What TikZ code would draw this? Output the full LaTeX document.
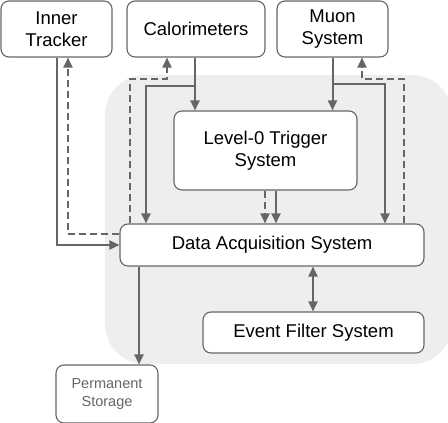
\documentclass[tikz,border=0pt]{standalone}
\usepackage{fontspec}
\setmainfont{Liberation Sans}
\usetikzlibrary{arrows.meta}
\definecolor{ln}{HTML}{666666}
\definecolor{bg}{HTML}{EEEEEE}
\begin{document}
\begin{tikzpicture}[x=1pt,y=-1pt,
  box/.style={draw=ln, line width=1.1pt, rounded corners=8pt, fill=white, align=center,
    inner sep=0pt, font=\fontsize{18.5}{21.7}\selectfont},
  smallbox/.style={box, font=\fontsize{14.5}{18}\selectfont, text=ln},
  conn/.style={draw=ln, line width=2pt, -{Triangle[width=9pt,length=10pt]}},
  dconn/.style={conn, dash pattern=on 7pt off 4pt},
  bconn/.style={draw=ln, line width=2pt, {Triangle[width=9pt,length=10pt]}-{Triangle[width=9pt,length=10pt]}}
]
\useasboundingbox (0,0) rectangle (448,423);
\begin{scope}
\clip (0,0) rectangle (448,423);
\fill[bg, rounded corners=40pt] (105,75) rectangle (452,364);
\end{scope}

\node[box, minimum width=111pt, minimum height=56pt] (it) at (56.5,29) {Inner\\Tracker};
\node[box, minimum width=138pt, minimum height=56pt] (cal) at (196,29) {Calorimeters};
\node[box, minimum width=111pt, minimum height=56pt] (mu) at (332.5,29) {Muon\\System};
\node[box, minimum width=183pt, minimum height=79pt] (l0) at (265.5,150.5) {Level-0 Trigger\\System};
\node[box, minimum width=304pt, minimum height=42pt] (daq) at (272,245) {Data Acquisition System};
\node[box, minimum width=221pt, minimum height=41pt] (ef) at (313.5,332.5) {Event Filter System};
\node[smallbox, minimum width=102pt, minimum height=58pt] (ps) at (107,394) {Permanent\\Storage};

% Inner tracker
\draw[conn] (it.south) |- (daq.west);
\draw[dconn] (daq.west |- 0,234) -| (it.south -| 68,0);
% Calorimeters
\draw[conn] (cal.south -| 195,0) -- (l0.north -| 195,0);
\draw[conn] (195,86) -| (daq.north -| 146,0);
\draw[dconn] (daq.north -| 130,0) |- (167,79) -- (cal.south -| 167,0);
% Muon
\draw[conn] (mu.south) -- (mu.south |- l0.north);
\draw[conn] (mu.south |- 0,84) -| (daq.north -| 385,0);
\draw[dconn] (daq.north -| 404,0) |- (362,79) -- (mu.south -| 362,0);
% Level-0 to DAQ
\draw[dconn] (l0.south -| 265,0) -- (daq.north -| 265,0);
\draw[conn] (l0.south -| 276,0) -- (daq.north -| 276,0);
% DAQ to EF and storage
\draw[bconn] (daq.south -| 313,0) -- (ef.north -| 313,0);
\draw[conn] (daq.south -| 139,0) -- (ps.north -| 139,0);
\end{tikzpicture}
\end{document}
